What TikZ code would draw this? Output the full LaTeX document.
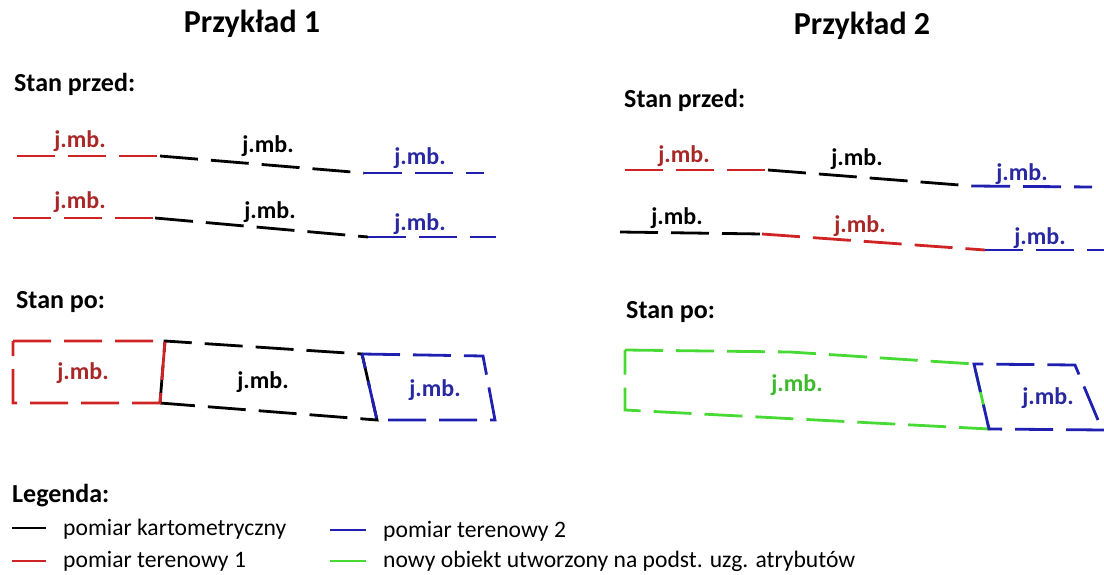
\documentclass[tikz,border=0pt]{standalone}
\usepackage{fontspec}
\setmainfont{Carlito}
\usetikzlibrary{positioning}
\definecolor{kred}{RGB}{208,36,36}
\definecolor{kredtxt}{RGB}{168,40,40}
\definecolor{kblue}{RGB}{32,32,176}
\definecolor{kbluetxt}{RGB}{40,40,160}
\definecolor{kgreen}{RGB}{72,218,52}
\tikzset{
kart/.style = {draw=black, line width=2.8pt, dash pattern=on 38pt off 13pt},
ter1/.style = {kart, draw=kred},
ter2/.style = {kart, draw=kblue},
nowy/.style = {kart, draw=kgreen},
legline/.style = {draw, line width=2.8pt},
lbl/.style = {font=\fontsize{24}{24}\selectfont\bfseries, inner sep=0pt},
ttl/.style = {font=\fontsize{32}{32}\selectfont\bfseries, inner sep=0pt, anchor=base},
hdr/.style = {font=\fontsize{26}{26}\selectfont\bfseries, inner sep=0pt, anchor=base west},
legtxt/.style = {font=\fontsize{23.6}{24}\selectfont, inner sep=0pt, anchor=base west}
}
\begin{document}
\begin{tikzpicture}[x=1pt, y=-1pt]
\useasboundingbox (0,0) rectangle (1104,575);
% naglowki
\node [ttl] (p1) at (252,33) {Przykład 1};
\node [ttl] (p2) at (862,35) {Przykład 2};
\node [hdr] (sp1) at (14,92) {Stan przed:};
\node [hdr] (sp2) at (624,108) {Stan przed:};
\node [hdr] (po1) at (16,308) {Stan po:};
\node [hdr] (po2) at (626,318) {Stan po:};
% przyklad 1, stan przed
\coordinate (a1) at (17,156); \coordinate (a2) at (160,156);
\coordinate (a3) at (364,173); \coordinate (a4) at (484,173);
\draw [ter1] (a1) -- (a2);
\draw [kart] (a2) -- (a3);
\draw [ter2] (a3) -- (a4);
\node [lbl, text=kredtxt] (l1) at (80,141) {j.mb.};
\node [lbl] (l2) at (268,146) {j.mb.};
\node [lbl, text=kbluetxt] (l3) at (420,158) {j.mb.};
\coordinate (b1) at (13,218); \coordinate (b2) at (155,218);
\coordinate (b3) at (368,237); \coordinate (b4) at (496,237);
\draw [ter1] (b1) -- (b2);
\draw [kart] (b2) -- (b3);
\draw [ter2] (b3) -- (b4);
\node [lbl, text=kredtxt] (l4) at (80,202) {j.mb.};
\node [lbl] (l5) at (270,212) {j.mb.};
\node [lbl, text=kbluetxt] (l6) at (420,224) {j.mb.};
% przyklad 2, stan przed
\coordinate (c1) at (625,170); \coordinate (c2) at (768,170);
\coordinate (c3) at (972,186); \coordinate (c4) at (1092,187);
\draw [ter1] (c1) -- (c2);
\draw [kart] (c2) -- (c3);
\draw [ter2] (c3) -- (c4);
\node [lbl, text=kredtxt] (l7) at (684,156) {j.mb.};
\node [lbl] (l8) at (857,159) {j.mb.};
\node [lbl, text=kbluetxt] (l9) at (1022,174) {j.mb.};
\coordinate (d1) at (620,232); \coordinate (d2) at (762,234);
\coordinate (d3) at (985,250); \coordinate (d4) at (1104,250);
\draw [kart] (d1) -- (d2);
\draw [ter1] (d2) -- (d3);
\draw [ter2] (d3) -- (d4);
\node [lbl] (l10) at (677,218) {j.mb.};
\node [lbl, text=kredtxt] (l11) at (860,226) {j.mb.};
\node [lbl, text=kbluetxt] (l12) at (1040,238) {j.mb.};
% przyklad 1, stan po
\coordinate (e1) at (13,341); \coordinate (e2) at (165,341);
\coordinate (e3) at (160,403); \coordinate (e4) at (13,403);
\coordinate (e5) at (362,354); \coordinate (e6) at (377,420);
\coordinate (e7) at (483,356); \coordinate (e8) at (495,420);
\draw [kart] (e3) -- (e2) -- (e5) -- (e6) -- cycle;
\draw [ter1] (e1) -- (e2) -- (e3) -- (e4) -- cycle;
\draw [ter2] (e5) -- (e7) -- (e8) -- (e6) -- cycle;
\node [lbl, text=kredtxt] (l13) at (83,373) {j.mb.};
\node [lbl] (l14) at (263,382) {j.mb.};
\node [lbl, text=kbluetxt] (l15) at (435,390) {j.mb.};
% przyklad 2, stan po
\coordinate (f1) at (625,350); \coordinate (f2) at (790,352);
\coordinate (f3) at (974,364); \coordinate (f4) at (989,429);
\coordinate (f5) at (625,410); \coordinate (f6) at (1075,365);
\coordinate (f7) at (1098,420); \coordinate (f8) at (1104,430);
\draw [nowy] (f1) -- (f2) -- (f3) -- (f4) -- (f5) -- cycle;
\draw [ter2] (f8) -- (f4) -- (f3) -- (f6) -- (f7);
\node [lbl, text=kgreen!85!black] (l16) at (797,385) {j.mb.};
\node [lbl, text=kbluetxt] (l17) at (1048,398) {j.mb.};
% legenda
\node [hdr] (leg) at (12,502) {Legenda:};
\coordinate (g1) at (12,528); \coordinate (g2) at (46,528);
\coordinate (g3) at (12,561); \coordinate (g4) at (46,561);
\coordinate (g5) at (330,530); \coordinate (g6) at (366,530);
\coordinate (g7) at (330,561); \coordinate (g8) at (366,561);
\draw [legline, black] (g1) -- (g2);
\draw [legline, kred] (g3) -- (g4);
\draw [legline, kblue] (g5) -- (g6);
\draw [legline, kgreen] (g7) -- (g8);
\node [legtxt] (t1) at (63,535) {pomiar kartometryczny};
\node [legtxt] (t2) at (63,567) {pomiar terenowy 1};
\node [legtxt] (t3) at (383,537) {pomiar terenowy 2};
\node [legtxt] (t4) at (383,567) {nowy obiekt utworzony na podst. uzg. atrybutów};
\end{tikzpicture}
\end{document}
